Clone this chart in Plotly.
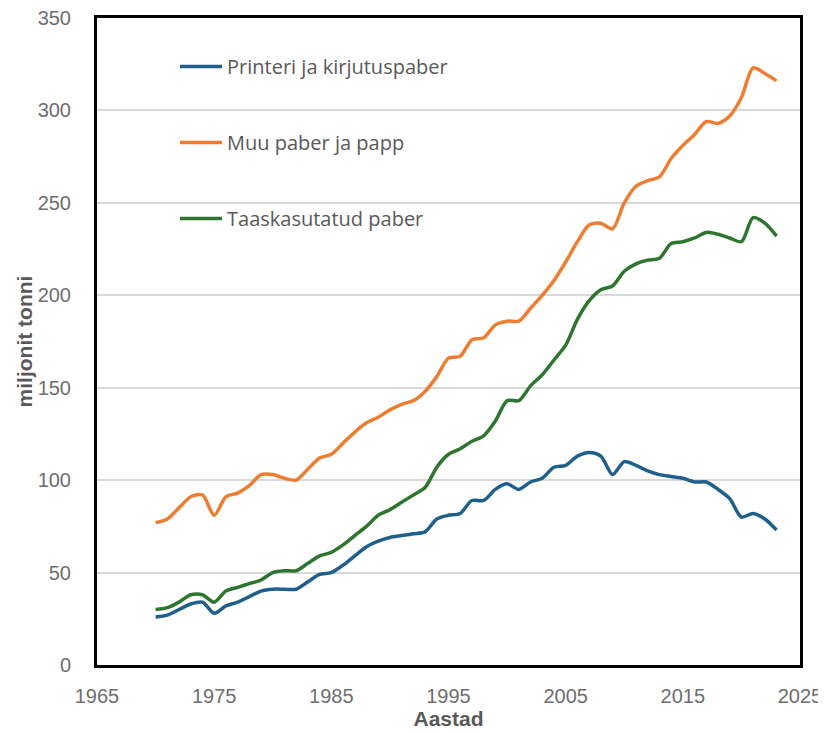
import plotly.graph_objects as go

years = list(range(1970, 2024))

printeri = [26, 27, 30, 33, 34, 28, 32, 34, 37, 40,
            41, 41, 41, 45, 49, 50, 54, 59, 64, 67,
            69, 70, 71, 72, 79, 81, 82, 89, 89, 95,
            98, 95, 99, 101, 107, 108, 113, 115, 113, 103,
            110, 108, 105, 103, 102, 101, 99, 99, 95, 90,
            80, 82, 79, 73]

muu = [77, 79, 85, 91, 92, 81, 91, 93, 97, 103,
       103, 101, 100, 106, 112, 114, 120, 126, 131, 134,
       138, 141, 143, 148, 156, 166, 167, 176, 177, 184,
       186, 186, 193, 200, 208, 218, 229, 238, 239, 236,
       250, 259, 262, 264, 274, 281, 287, 294, 293, 297,
       307, 323, 320, 316]

taaskasutatud = [30, 31, 34, 38, 38, 34, 40, 42, 44, 46,
                 50, 51, 51, 55, 59, 61, 65, 70, 75, 81,
                 84, 88, 92, 96, 107, 114, 117, 121, 124, 132,
                 143, 143, 151, 157, 165, 173, 187, 197, 203, 205,
                 213, 217, 219, 220, 228, 229, 231, 234, 233, 231,
                 229, 242, 239, 232]

x_ticks = [1965, 1975, 1985, 1995, 2005, 2015, 2025]

series = [
    ("Printeri ja kirjutuspaber", printeri, "#1f5f8b"),
    ("Muu paber ja papp", muu, "#ed7d31"),
    ("Taaskasutatud paber", taaskasutatud, "#2e7530"),
]

fig = go.Figure()
for i, (name, vals, color) in enumerate(series):
    fig.add_trace(go.Scatter(
        x=years, y=vals, name=name, mode="lines",
        line=dict(color=color, width=3.5, shape="spline", smoothing=0.8),
        legendgroup=f"g{i}",
    ))

tick_font = dict(family="Liberation Sans, Arial", size=20, color="#6e6e6e")
title_font = dict(family="Liberation Sans, Arial", size=21, color="#595959")

fig.update_layout(
    width=818, height=725,
    margin=dict(l=89, r=26, t=10, b=68),
    paper_bgcolor="white", plot_bgcolor="white",
    showlegend=True,
    legend=dict(
        x=0.111, y=0.955, xanchor="left", yanchor="top",
        bgcolor="rgba(0,0,0,0)", borderwidth=0,
        font=dict(family="Open Sans, Noto Sans, sans-serif", size=20, color="#595959"),
        traceorder="grouped", tracegroupgap=47,
        itemwidth=42,
    ),
    xaxis=dict(
        range=[1965, 2025], tickvals=x_ticks,
        showgrid=False, zeroline=False, automargin=False,
        showline=True, linecolor="black", linewidth=3, mirror=True,
        ticks="", ticklabelstandoff=11, ticklabeloverflow="allow",
        tickfont=tick_font,
        title=dict(text="<b>Aastad</b>", standoff=0, font=title_font),
    ),
    yaxis=dict(
        range=[0, 350], dtick=50,
        showgrid=True, gridcolor="#d9d9d9", gridwidth=2,
        zeroline=False, automargin=False,
        showline=True, linecolor="black", linewidth=3, mirror=True,
        ticks="", ticklabelstandoff=19, ticklabeloverflow="allow",
        tickfont=tick_font,
        title=dict(text="<b>miljonit tonni</b>", standoff=0, font=title_font),
    ),
)

fig.write_html("out.html")
